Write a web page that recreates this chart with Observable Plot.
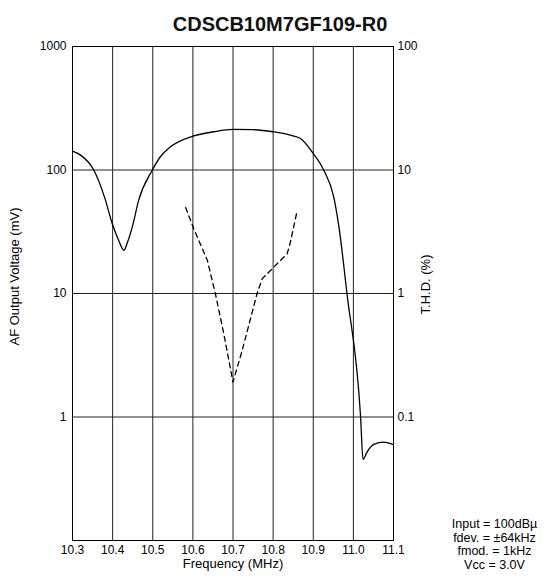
<!DOCTYPE html>
<html><head><meta charset="utf-8">
<script src="https://cdn.jsdelivr.net/npm/d3@7"></script>
<script src="https://cdn.jsdelivr.net/npm/@observablehq/plot@0.6"></script>
<style>body{margin:0;background:#fff;} svg{display:block}</style>
</head><body><div id="chart"></div>
<script>
const title = "CDSCB10M7GF109-R0";
const xLabel = "Frequency (MHz)";
const leftLabel = "AF Output Voltage (mV)";
const rightLabel = "T.H.D. (%)";
const conditions = ["Input = 100dBµ", "fdev. = ±64kHz", "fmod. = 1kHz", "Vcc = 3.0V"];

const xTicks = [10.3, 10.4, 10.5, 10.6, 10.7, 10.8, 10.9, 11.0, 11.1];
const leftTicks = [1, 10, 100, 1000];
const rightTicks = [0.1, 1, 10, 100];
const gridYValues = [0.1, 1, 10, 100, 1000];

// AF output voltage (mV)
const freq = [10.30, 10.32, 10.353, 10.38, 10.40, 10.415, 10.428, 10.436, 10.449, 10.465, 10.499, 10.519, 10.544, 10.60, 10.652, 10.70, 10.75, 10.80, 10.852, 10.868, 10.90, 10.926, 10.951, 10.964, 10.984, 11.018, 11.024, 11.034, 11.051, 11.076, 11.10];
const afOutput = [142, 132, 100, 60, 36, 27, 22.4, 25.4, 34.6, 57, 100, 128, 154, 188, 204, 213, 212, 204, 188, 180, 136, 100, 60.5, 34.6, 10, 1.0, 0.453, 0.52, 0.60, 0.627, 0.596];

// T.H.D. (%)
const thdFreq = [10.582, 10.602, 10.636, 10.656, 10.677, 10.700, 10.723, 10.760, 10.773, 10.798, 10.835, 10.843, 10.860];
const thdPct = [4.97, 3.36, 1.86, 1.0, 0.473, 0.192, 0.347, 1.0, 1.32, 1.59, 2.1, 2.6, 4.7];

const thdScale = 10; // right axis = left axis / 10
const af = freq.map((f, i) => ({f, v: afOutput[i]}));
const th = thdFreq.map((f, i) => ({f, v: thdPct[i] * thdScale}));

const font = "'Liberation Sans', Arial, Helvetica, sans-serif";

const chart = Plot.plot({
  width: 548,
  height: 577,
  marginLeft: 72,
  marginRight: 155,
  marginTop: 46,
  marginBottom: 37,
  style: {fontFamily: font, fontSize: "12px", background: "#fff", color: "#000"},
  x: {domain: [10.3, 11.1]},
  y: {type: "log", domain: [0.1, 1000]},
  marks: [
    Plot.gridX(xTicks, {stroke: "#222", strokeOpacity: 1, strokeWidth: 1}),
    Plot.gridY(gridYValues, {stroke: "#222", strokeOpacity: 1, strokeWidth: 1}),
    Plot.frame({stroke: "#000", strokeWidth: 1}),
    Plot.axisX(xTicks, {tickSize: 0, tickPadding: 5, tickFormat: d => d.toFixed(1), label: null, fontSize: 12}),
    Plot.axisY(leftTicks, {anchor: "left", tickSize: 0, tickPadding: 6, tickFormat: d => String(d), label: null, fontSize: 12}),
    Plot.axisY(rightTicks.map(t => t * thdScale), {anchor: "right", tickSize: 0, tickPadding: 4, tickFormat: d => String(+(d / thdScale).toPrecision(3)), label: null, fontSize: 12}),
    Plot.line(af, {x: "f", y: "v", stroke: "#000", strokeWidth: 1.3, curve: "monotone-x"}),
    Plot.line(th, {x: "f", y: "v", stroke: "#000", strokeWidth: 1.3, strokeDasharray: "5,4", curve: "linear"}),
    Plot.text([title], {frameAnchor: "top", dx: 47, dy: -30, fontSize: 20, fontWeight: "bold", fill: "#111"}),
    Plot.text([xLabel], {frameAnchor: "bottom", dy: 27, fontSize: 13}),
    Plot.text([leftLabel], {frameAnchor: "left", textAnchor: "middle", dx: -58, dy: -17, rotate: -90, fontSize: 13}),
    Plot.text([rightLabel], {frameAnchor: "right", textAnchor: "middle", dx: 32, dy: -9, rotate: -90, fontSize: 13}),
    Plot.text([conditions.join("\n")], {frameAnchor: "bottom-right", dx: 101, dy: 28, textAnchor: "middle", lineHeight: 1.07, fontSize: 12.5})
  ]
});
document.getElementById("chart").appendChild(chart);
</script>
</body></html>
